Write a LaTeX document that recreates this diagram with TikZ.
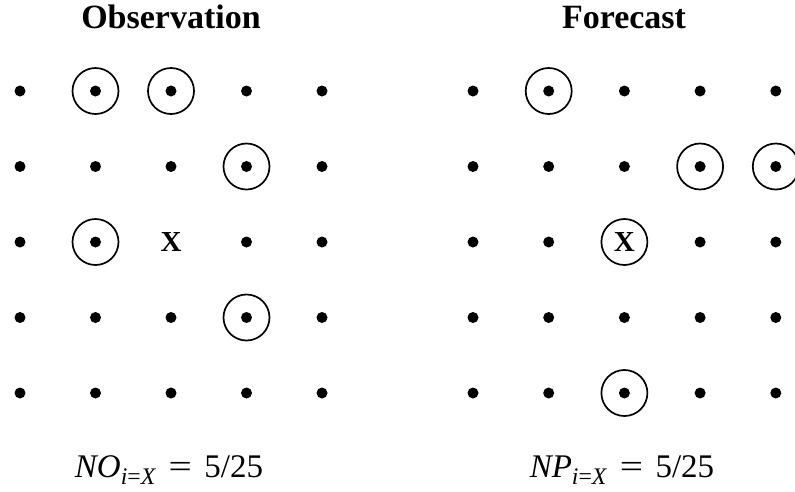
\documentclass[tikz,border=0pt]{standalone}
\usepackage{fontspec}
\setmainfont{Liberation Serif}
\usepackage{graphicx}
\newcommand{\myformula}[1]{\textit{#1}\raisebox{-0.22em}{\scalebox{0.72}{\textit{i}=\textit{X}}}\hspace{0.38em}\scalebox{1.25}[1]{=}\hspace{0.38em}5/25}
\tikzset{
  dotnode/.style={circle, fill=black, inner sep=0pt, minimum size=11pt},
  ring/.style={circle, draw=black, line width=1.7pt, inner sep=0pt, minimum size=46pt},
  titletext/.style={anchor=base, inner sep=0pt, font=\fontsize{34}{36}\selectfont\bfseries},
  xtext/.style={inner sep=0pt, font=\fontsize{29}{32}\selectfont\bfseries},
  formtext/.style={anchor=base, inner sep=0pt, font=\fontsize{33}{36}\selectfont}
}
\begin{document}
\begin{tikzpicture}[x=1pt,y=-1pt]
\path[use as bounding box, clip] (0,0) rectangle (795,491);
% titles
\node[titletext] (tobs) at (171,28.5) {Observation};
\node[titletext] (tfor) at (624,28.5) {Forecast};
% dot grids
\foreach \r in {1,...,5}{
  \foreach \c in {1,...,5}{
    \ifnum\numexpr\r*10+\c\relax=33
    \else
      \node[dotnode] (o\r\c) at ({20+75.5*(\c-1)},{91+75.5*(\r-1)}) {};
      \node[dotnode] (f\r\c) at ({473+75.7*(\c-1)},{91+75.5*(\r-1)}) {};
    \fi
  }
}
% observation rings
\node[ring] (ro12) at (o12) {};
\node[ring] (ro13) at (o13) {};
\node[ring] (ro24) at (o24) {};
\node[ring] (ro32) at (o32) {};
\node[ring] (ro44) at (o44) {};
\node[xtext] (ox) at (171,242) {X};
% forecast rings
\node[ring] (rf12) at (f12) {};
\node[ring] (rf24) at (f24) {};
\node[ring] (rf25) at (f25) {};
\node[ring] (rf53) at (f53) {};
\node[ring, font=\fontsize{29}{32}\selectfont\bfseries] (fx) at (624.4,242) {X};
% formulas
\node[formtext] (fo) at (169,477) {\myformula{NO}};
\node[formtext] (fp) at (622,477) {\myformula{NP}};
\end{tikzpicture}
\end{document}
